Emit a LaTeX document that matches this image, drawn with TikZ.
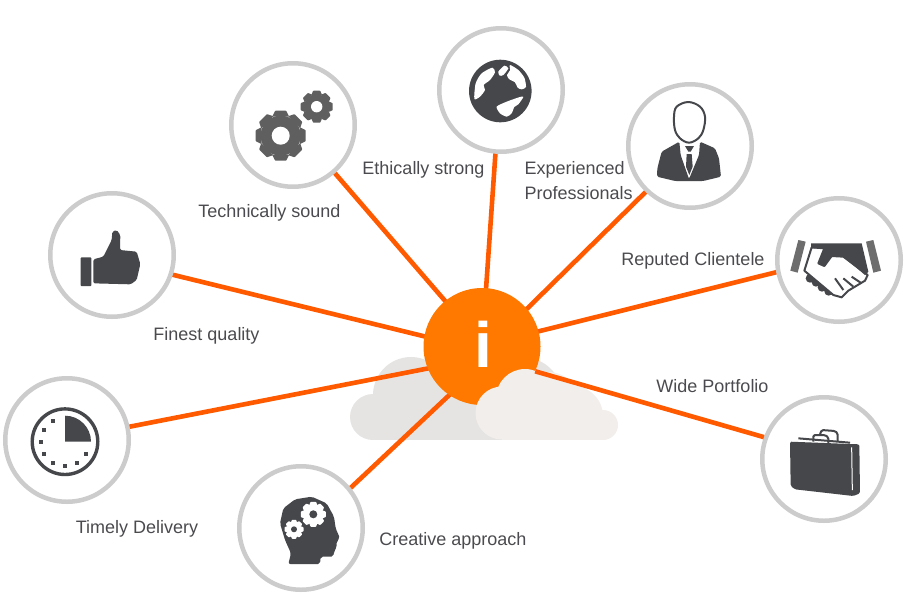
\documentclass[tikz,border=0pt]{standalone}
\usepackage{fontspec}
\setmainfont{Liberation Sans}
\usetikzlibrary{backgrounds}
\definecolor{ringgray}{HTML}{CCCCCC}
\definecolor{spoke}{HTML}{FF5A00}
\definecolor{hubfill}{HTML}{FF7800}
\definecolor{cloudback}{HTML}{E6E4E2}
\definecolor{cloudfront}{HTML}{F1EEEC}
\definecolor{icondark}{HTML}{46474B}
\definecolor{icongear}{HTML}{5F5F5F}
\definecolor{iconcuff}{HTML}{6D6D6D}
\definecolor{labeltext}{HTML}{4B4B4F}
\tikzset{
    ring/.style={circle, draw=ringgray, line width=4.5pt, fill=white, minimum size=123.5pt, inner sep=0pt},
    spokeline/.style={draw=spoke, line width=4.6pt},
    caption/.style={text=labeltext, font=\fontsize{18}{25}\selectfont, inner sep=0pt},
    zoomed/.style={shift={#1}, scale=1/3},
    glyph/.style={fill=icondark},
    glyphline/.style={draw=icondark, line width=2pt, line join=round}
}
% gear: x, y, outer radius, root radius, hole radius, gear colour, hole colour
\newcommand{\gearicon}[7]{
    \fill[#6] (#1,#2) circle (#4);
    \foreach \a in {0,45,...,315}
        \fill[#6, shift={(#1,#2)}, rotate=\a, rounded corners=0.6pt]
            ({#4-1},{-0.34*#3}) -- ({#3},{-0.22*#3}) -- ({#3},{0.22*#3}) -- ({#4-1},{0.34*#3}) -- cycle;
    \fill[#7] (#1,#2) circle (#5);
}
\begin{document}
\begin{tikzpicture}[x=1pt, y=-1pt]
    \useasboundingbox (0,0) rectangle (910,600);

    % nodes
    \node[circle, fill=hubfill, minimum size=117pt, inner sep=0pt, text=white,
          font=\fontsize{64}{64}\selectfont\bfseries] (hub) at (482,346.5) {\raisebox{4.5pt}{\hspace{2pt}i}};
    \node[ring] (quality) at (112,255) {};
    \node[ring] (technical) at (293,125) {};
    \node[ring] (ethics) at (501,90) {};
    \node[ring] (experts) at (690,146) {};
    \node[ring] (clients) at (839,260) {};
    \node[ring] (portfolio) at (824,459) {};
    \node[ring] (creative) at (301,528) {};
    \node[ring] (timely) at (67,440) {};

    % back cloud and spokes go under the nodes
    \begin{scope}[on background layer]
        \fill[cloudback] (373,417) circle (23) (411,395) circle (38) (522,398) circle (41);
        \fill[cloudback] (373,394) rectangle (540,440);
        \draw[spokeline, shorten <=-3pt, shorten >=-3pt] (hub.170) -- (quality.-18);
        \draw[spokeline, shorten <=-3pt, shorten >=-3pt] (hub.129) -- (technical.-49);
        \draw[spokeline, shorten <=-3pt, shorten >=-3pt] (hub.86) -- (ethics.265);
        \draw[spokeline, shorten <=-3pt, shorten >=-3pt] (hub.40) -- (experts.226);
        \draw[spokeline, shorten <=-3pt, shorten >=-3pt] (hub.15) -- (clients.191);
        \draw[spokeline, shorten <=-3pt, shorten >=-3pt] (hub.236) -- (creative.39);
        \draw[spokeline, shorten <=-3pt, shorten >=-3pt] (hub.202) -- (timely.12);
    \end{scope}

    % front cloud, the last spoke lies on it
    \begin{scope}
        \clip (470,360) rectangle (625,439.5);
        \fill[cloudfront] (502,413) circle (26.5) (525,398) circle (29) (548,405) circle (33)
            (570,416) ellipse (33 and 31) (603,425) circle (15);
        \fill[cloudfront] (502,410) rectangle (603,440);
    \end{scope}
    \draw[spokeline] (hub.-25) -- (portfolio.160);

    % captions
    \node[caption] (qualitytext) at (206.5,336) {Finest quality};
    \node[caption] (technicaltext) at (269.5,213) {Technically sound};
    \node[caption] (ethicstext) at (423.5,169.5) {Ethically strong};
    \node[caption, align=left, anchor=north west] (expertstext) at (524.5,161) {Experienced\\Professionals};
    \node[caption] (clientstext) at (693,261) {Reputed Clientele};
    \node[caption] (portfoliotext) at (712.5,386.5) {Wide Portfolio};
    \node[caption] (creativetext) at (453,541) {Creative approach};
    \node[caption] (timelytext) at (137,529) {Timely Delivery};

    % thumb
    \begin{scope}[zoomed={(0,190)}]
        \fill[glyph, rounded corners=0.8pt] (242,202) rectangle (274,288);
        \fill[glyph, rounded corners=1.5pt] (280,208) -- (310,200) -- (335,150) -- (337,125) -- (350,120)
            -- (361,135) -- (360,180) -- (410,185) -- (421,222) -- (410,270) -- (392,283) -- (280,280) -- cycle;
    \end{scope}

    % clock
    \draw[icondark, line width=3.4pt] (65,441.7) circle (32.8);
    \fill[icondark] (65,441.7) -- (65,415.7) arc[start angle=-90, end angle=0, radius=26] -- cycle;
    \foreach \a in {-120,-150,...,-330}
        \fill[icondark, shift={(65,441.7)}] (\a:24.3) ++(-2,-2) rectangle ++(4,4);

    % gears
    \gearicon{280.7}{135.7}{25}{20}{9}{icongear}{white}{}
    \gearicon{316.7}{106.7}{16}{12.5}{5.7}{icongear}{white}{}

    % globe
    \fill[icondark] (500.3,91) circle (31.3);
    \begin{scope}[zoomed={(465,55)}]
        \fill[white] plot[smooth cycle, tension=0.4] coordinates {(82,38) (50,55) (32,85) (28,132) (45,125) (60,105) (56,90) (75,75) (90,52)};
        \fill[white] plot[smooth cycle, tension=0.4] coordinates {(100,50) (118,32) (130,40) (115,60) (104,62)};
        \fill[white] plot[smooth cycle, tension=0.4] coordinates {(135,30) (160,45) (178,68) (183,96) (170,103) (158,98) (150,82) (132,72) (126,60) (135,46)};
        \fill[white] plot[smooth cycle, tension=0.4] coordinates {(95,155) (125,140) (165,126) (175,126) (160,148) (148,156) (140,175) (125,185) (105,175)};
    \end{scope}

    % person
    \begin{scope}[zoomed={(620,80)}]
        \fill[glyph, rounded corners=1.5pt] (111,290) -- (112,265) -- (125,215) -- (178,185) -- (182,225) -- (207,297)
            -- (237,225) -- (240,185) -- (285,205) -- (297,235) -- (303,290) -- (250,303) -- (165,303) -- cycle;
        \draw[glyphline, fill=white] plot[smooth cycle, tension=0.6] coordinates {(205,66) (240,80) (255,110) (250,150) (235,175) (207,188) (180,175) (165,150) (162,110) (170,80)};
        \fill[glyph] (195,198) -- (222,198) -- (212,215) -- (205,215) -- cycle;
        \fill[glyph] (200,222) -- (215,222) -- (218,260) -- (208,285) -- (198,260) -- cycle;
    \end{scope}

    % handshake
    \begin{scope}[zoomed={(785,230)}]
        \fill[iconcuff] (40,30) -- (62,35) -- (38,128) -- (16,122) -- cycle;
        \fill[iconcuff] (243,35) -- (265,30) -- (288,122) -- (265,128) -- cycle;
        \fill[glyph] (75,145) circle (13) (93,157) circle (13) (111,172) circle (13) (131,184) circle (13);
        \draw[glyphline, fill=white] (80,52) -- (58,122) -- (145,195) -- (170,202) -- (190,182) -- (215,167)
            -- (240,152) -- (248,135) -- (175,80) -- (140,78) -- (118,108) -- (100,100) -- (118,55) -- cycle;
        \fill[glyph] (78,40) -- (230,40) -- (250,125) -- (240,135) -- (175,80) -- (140,78) -- (118,108)
            -- (100,100) -- (118,55) -- (78,55) -- cycle;
        \draw[glyphline] (150,145) -- (175,180) (175,145) -- (205,170) (200,140) -- (230,160);
    \end{scope}

    % briefcase
    \begin{scope}[zoomed={(750,390)}]
        \fill[glyph, rounded corners=1.5pt] (120,155) -- (328,163) -- (330,310) -- (310,318) -- (135,298) -- (122,288) -- cycle;
        \draw[glyphline] (145,145) -- (300,158);
        \draw[glyphline, rounded corners=1.5pt] (190,155) -- (190,135) -- (225,135) -- (235,142) -- (235,160);
        \draw[glyphline, rounded corners=1.5pt] (210,133) -- (215,120) -- (255,123) -- (263,130) -- (263,155);
        \draw[white, line width=1pt] (305,172) -- (307,300);
    \end{scope}

    % head
    \begin{scope}[zoomed={(230,460)}]
        \fill[glyph, rounded corners=2pt] (175,312) -- (183,280) -- (165,240) -- (150,190) -- (160,145) -- (195,118) -- (245,110)
            -- (290,130) -- (312,170) -- (317,205) -- (330,235) -- (320,243) -- (320,262) -- (312,275) -- (310,290) -- (272,290)
            -- (270,312) -- cycle;
    \end{scope}
    \gearicon{313.3}{514.3}{12.5}{9.5}{4}{white}{icondark}{}
    \gearicon{294}{529.3}{9.5}{7.2}{3}{white}{icondark}{}
\end{tikzpicture}
\end{document}
